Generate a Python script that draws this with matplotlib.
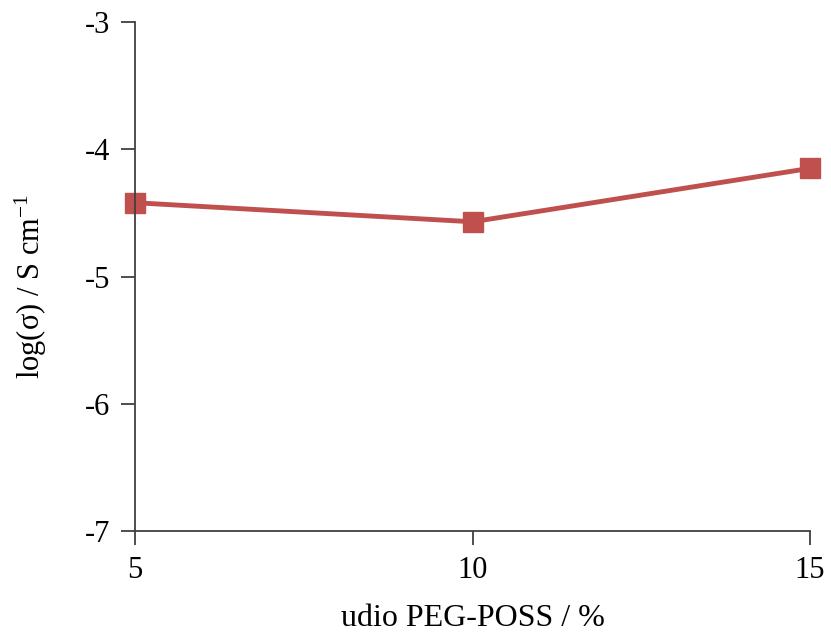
import matplotlib
matplotlib.use("Agg")
import matplotlib.pyplot as plt

# PEG-POSS content vs log conductivity
peg_poss = [5, 10, 15]
log_sigma = [-4.42, -4.57, -4.15]

plt.rcParams['font.family'] = ['Liberation Serif', 'DejaVu Serif']
plt.rcParams['axes.unicode_minus'] = False

fig = plt.figure(figsize=(8.31, 6.38), dpi=100)
ax = fig.add_axes([0.1625, 0.1677, 0.8122, 0.7978])

ax.plot(peg_poss, log_sigma, color='#C0504D', linewidth=3.5,
        marker='s', markersize=15, clip_on=False)

ax.set_xlim(5, 15)
ax.set_ylim(-7, -3)
ax.set_xticks([5, 10, 15])
ax.set_yticks([-7, -6, -5, -4, -3])

for side in ['top', 'right']:
    ax.spines[side].set_visible(False)
for side in ['left', 'bottom']:
    ax.spines[side].set_color('#404040')
    ax.spines[side].set_linewidth(1.3)

ax.tick_params(axis='both', direction='out', length=10, width=1.3,
               color='#404040', labelsize=22, pad=8)

ax.set_xlabel('udio PEG-POSS / %', fontsize=23, labelpad=14)
ax.set_ylabel(r'log($\mathregular{\sigma}$) / S cm$\mathregular{^{-1}}$', fontsize=22)
ax.yaxis.set_label_coords(-0.128, 0.48)

fig.savefig('out.png', dpi=100)
